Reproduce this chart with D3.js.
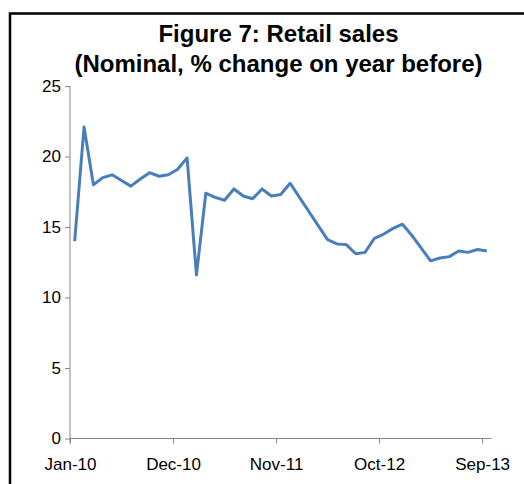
<!DOCTYPE html>
<html>
<head>
<meta charset="utf-8">
<script src="https://cdn.jsdelivr.net/npm/d3@7"></script>
<style>
  html, body { margin: 0; padding: 0; background: #fff; }
  svg { display: block; }
</style>
</head>
<body>
<svg id="chart" width="524" height="484"></svg>
<script>
const titleLines = ["Figure 7: Retail sales", "(Nominal, % change on year before)"];
const months = [
  "Jan-10","Feb-10","Mar-10","Apr-10","May-10","Jun-10","Jul-10","Aug-10","Sep-10","Oct-10","Nov-10","Dec-10",
  "Jan-11","Feb-11","Mar-11","Apr-11","May-11","Jun-11","Jul-11","Aug-11","Sep-11","Oct-11","Nov-11","Dec-11",
  "Jan-12","Feb-12","Mar-12","Apr-12","May-12","Jun-12","Jul-12","Aug-12","Sep-12","Oct-12","Nov-12","Dec-12",
  "Jan-13","Feb-13","Mar-13","Apr-13","May-13","Jun-13","Jul-13","Aug-13","Sep-13"
];
const retailSales = [
  14.0, 22.1, 18.0, 18.5, 18.7, 18.3, 17.9, 18.4, 18.85, 18.6, 18.7, 19.1,
  19.9, 11.6, 17.4, 17.1, 16.9, 17.7, 17.2, 17.0, 17.7, 17.2, 17.3, 18.1,
  17.1, 16.1, 15.1, 14.1, 13.8, 13.75, 13.1, 13.2, 14.2, 14.5, 14.9, 15.2,
  14.4, 13.5, 12.6, 12.8, 12.9, 13.3, 13.2, 13.4, 13.3
];
const xTickLabels = ["Jan-10", "Dec-10", "Nov-11", "Oct-12", "Sep-13"];
const yTicks = [0, 5, 10, 15, 20, 25];

const svg = d3.select("#chart");

// outer frame
svg.append("rect")
  .attr("x", 10).attr("y", 13.5)
  .attr("width", 540).attr("height", 500)
  .attr("fill", "none").attr("stroke", "#000").attr("stroke-width", 2.5);

// title
svg.append("g").selectAll("text").data(titleLines).join("text")
  .attr("x", 278.5)
  .attr("y", (d, i) => 42 + i * 30)
  .attr("text-anchor", "middle")
  .attr("font-family", "Liberation Sans, Arial, sans-serif")
  .attr("font-weight", "bold")
  .attr("font-size", 24)
  .attr("fill", "#000")
  .text(d => d);

const plotLeft = 70, plotRight = 491.5, plotTop = 86, plotBottom = 438.5;

const x = d3.scaleLinear().domain([0, months.length]).range([plotLeft, plotRight]);
const y = d3.scaleLinear().domain([0, 25]).range([plotBottom, plotTop]);

const axisColor = "#868686";
const labelFont = "Liberation Sans, Arial, sans-serif";

// y axis
const yAxis = svg.append("g")
  .attr("transform", `translate(${plotLeft},0)`)
  .call(d3.axisLeft(y).tickValues(yTicks).tickSize(5).tickPadding(4).tickFormat(d3.format("d")));
yAxis.select(".domain").attr("stroke", axisColor).attr("d", `M0,${plotTop}V${plotBottom + 5}`);
yAxis.selectAll(".tick line").attr("stroke", axisColor);
yAxis.selectAll(".tick text")
  .attr("font-family", labelFont).attr("font-size", 17).attr("fill", "#000");

// x axis
const xTickIdx = xTickLabels.map(l => months.indexOf(l));
const xAxis = svg.append("g")
  .attr("transform", `translate(0,${plotBottom})`)
  .call(d3.axisBottom(x).tickValues(xTickIdx).tickSize(5).tickPadding(14)
    .tickFormat(i => months[i]));
xAxis.select(".domain").attr("stroke", axisColor).attr("d", `M${plotLeft},0H${plotRight}`);
xAxis.selectAll(".tick line").attr("stroke", axisColor);
xAxis.selectAll(".tick text")
  .attr("font-family", labelFont).attr("font-size", 17).attr("fill", "#000");

// line
const line = d3.line()
  .x((d, i) => x(i + 0.5))
  .y(d => y(d));

svg.append("path")
  .datum(retailSales)
  .attr("d", line)
  .attr("fill", "none")
  .attr("stroke", "#4a7ebb")
  .attr("stroke-width", 3)
  .attr("stroke-linejoin", "round");
</script>
</body>
</html>
